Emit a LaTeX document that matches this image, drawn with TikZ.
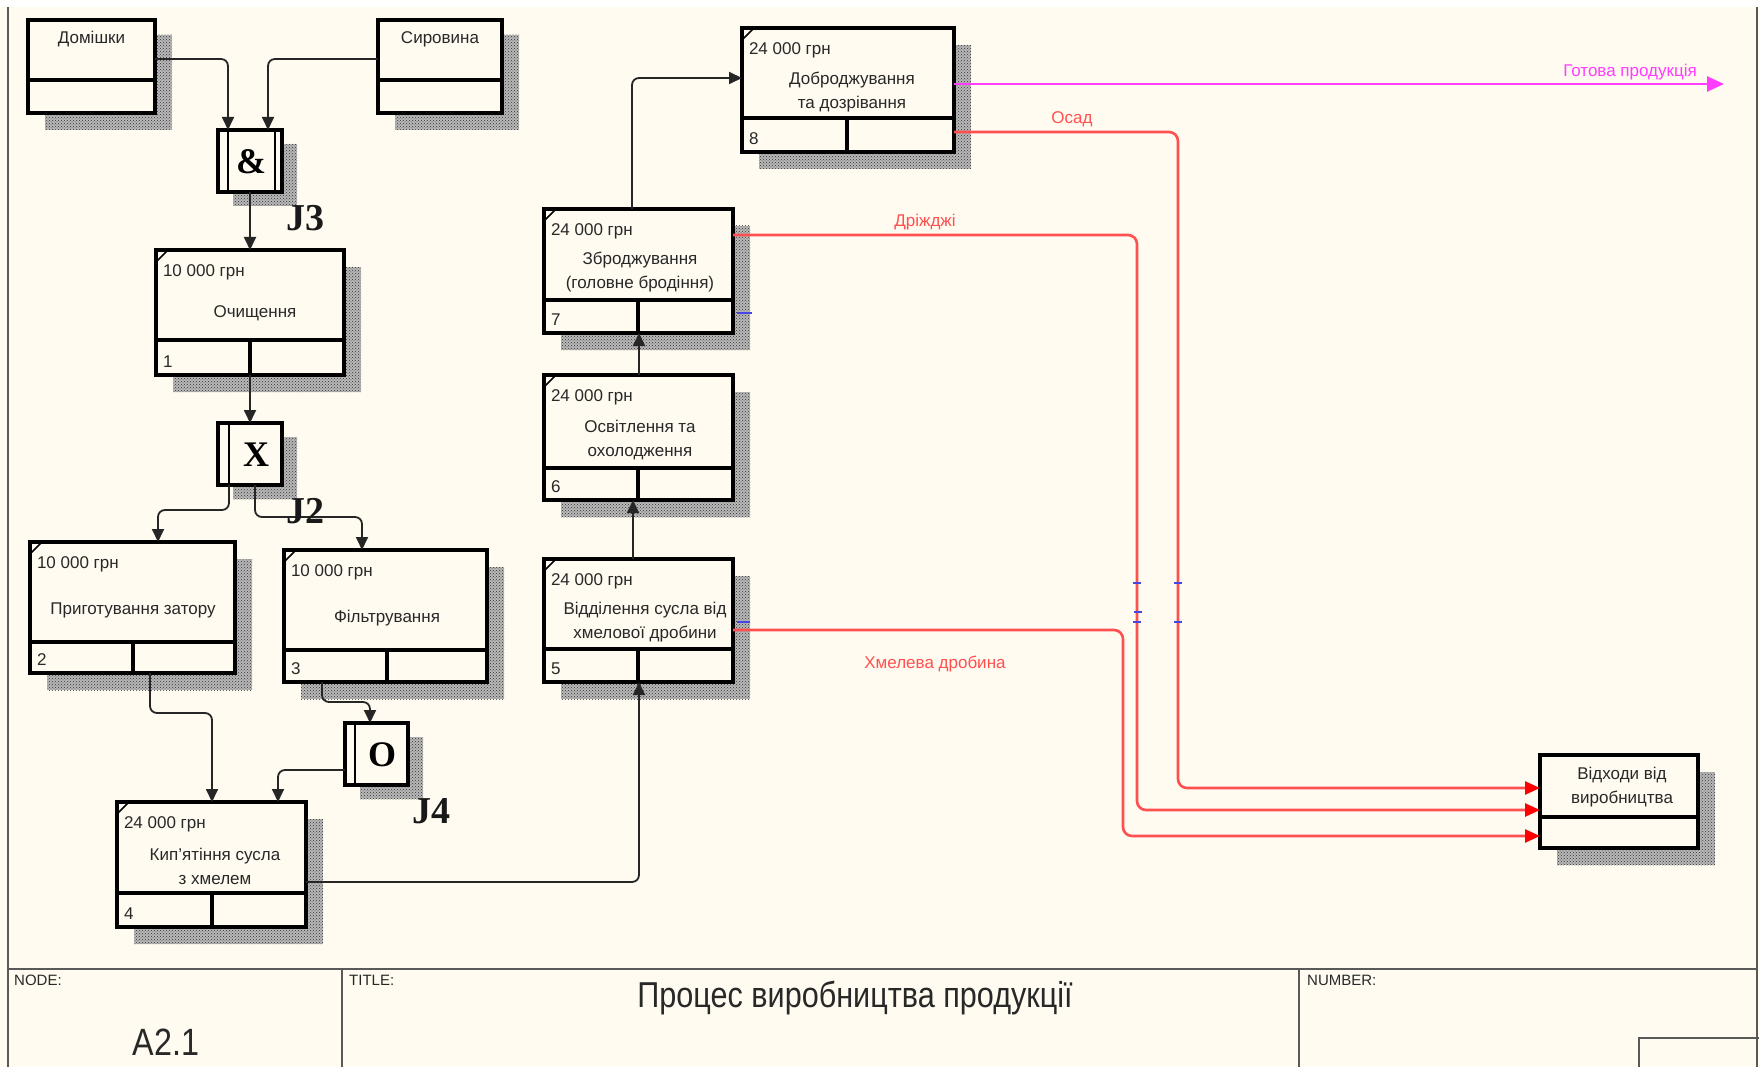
\documentclass[tikz,border=0pt]{standalone}
\usepackage{fontspec}
\setmainfont{Liberation Sans}
\newfontfamily\jfont{Liberation Serif}
\newfontfamily\titlefont[FakeStretch=0.85]{Liberation Sans}
\usetikzlibrary{arrows.meta,patterns}

\definecolor{cream}{RGB}{255,251,240}
\definecolor{idefred}{RGB}{255,80,80}
\definecolor{idefmag}{RGB}{255,60,255}
\definecolor{tickblue}{RGB}{70,70,230}
\definecolor{txtgray}{RGB}{40,40,40}

\tikzset{
  boxst/.style={draw=black, line width=3.2pt, fill=cream, inner sep=0pt, outer sep=0pt},
  divline/.style={black, line width=3.2pt},
  shadowst/.style={preaction={fill=black!28}, pattern=crosshatch dots, pattern color=black!80},
  txt/.style={font=\fontsize{17}{24}\selectfont, text=txtgray, inner sep=0pt, outer sep=0pt},
  ttl/.style={txt, align=center},
  flow/.style={draw=black!85, line width=1.8pt, rounded corners=7pt, -{Triangle[length=13pt,width=12pt]}},
  redflow/.style={draw=idefred, line width=2.6pt, rounded corners=9pt, -{Triangle[length=15pt,width=13pt,color=red]}},
  magflow/.style={draw=idefmag, line width=2.6pt, -{Triangle[length=17pt,width=15pt]}},
  jsym/.style={font=\jfont\bfseries\fontsize{36}{36}\selectfont, inner sep=0pt, text=black},
  jlbl/.style={font=\jfont\bfseries\fontsize{38}{38}\selectfont, inner sep=0pt, text=black!90},
  frameline/.style={draw=black!65, line width=2.8pt},
  tickst/.style={draw=tickblue, line width=1.6pt},
  smalltxt/.style={font=\fontsize{15}{15}\selectfont, text=txtgray, inner sep=0pt, anchor=west}
}

% activity box: name x1 y1 x2 y2 divy vx cost number
\newcommand\actbox[9]{%
  \fill[shadowst] ({#2+17},{#3+17}) rectangle ({#4+17},{#5+17});
  \node[boxst, anchor=north west, minimum width={(#4-#2)*1pt}, minimum height={(#5-#3)*1pt}] (#1) at (#2,#3) {};
  \draw[divline] (#2,#6) -- (#4,#6) (#7,#6) -- (#7,#5);
  \draw[black, line width=1.6pt] (#2,{#3+12}) -- ({#2+12},#3);
  \node[txt, anchor=west] (#1c) at ({#2+7},{#3+22}) {#8};
  \node[txt, anchor=west] (#1n) at ({#2+7},{#5-13}) {#9};
}
% source box: name x1 y1 x2 y2 divy text
\newcommand\srcbox[7]{%
  \fill[shadowst] ({#2+17},{#3+15}) rectangle ({#4+17},{#5+17});
  \node[boxst, anchor=north west, minimum width={(#4-#2)*1pt}, minimum height={(#5-#3)*1pt}] (#1) at (#2,#3) {};
  \draw[divline] (#2,#6) -- (#4,#6);
  \node[txt] (#1t) at ({(#2+#4)/2},{#3+19}) {#7};
}
% junction: name x1 y1 x2 y2 symbol symx bars
\newcommand\jbox[8]{%
  \fill[shadowst] ({#2+15},{#3+14}) rectangle ({#4+15},{#5+14});
  \node[boxst, anchor=north west, minimum width={(#4-#2)*1pt}, minimum height={(#5-#3)*1pt}] (#1) at (#2,#3) {};
  \foreach \bx in {#8} {\draw[black, line width=2.4pt] (\bx,#3) -- (\bx,#5);}
  \node[jsym] (#1s) at (#7,{(#3+#5)/2+1}) {#6};
}

\begin{document}
\begin{tikzpicture}[x=1pt,y=-1pt]
\useasboundingbox (0,0) rectangle (1759,1067);
\fill[white] (0,0) rectangle (1759,1067);
\fill[cream] (0,7) rectangle (1759,1067);

% frame and title block
\draw[frameline] (8,7) -- (8,1067);
\draw[frameline] (1757,7) -- (1757,1067);
\draw[frameline] (8,969) -- (1757,969);
\draw[frameline] (342,969) -- (342,1067);
\draw[frameline] (1299,969) -- (1299,1067);
\draw[frameline] (1639,1067) |- (1759,1038);
\node[smalltxt] (tnode) at (14,980) {NODE:};
\node[smalltxt] (ttitle) at (349,980) {TITLE:};
\node[smalltxt] (tnum) at (1307,980) {NUMBER:};
\node[font=\titlefont\fontsize{38}{38}\selectfont, anchor=base, inner sep=0pt, text=txtgray] (tA) at (166,1055) {A2.1};
\node[font=\titlefont\fontsize{36}{36}\selectfont, anchor=base, inner sep=0pt, text=txtgray] (tT) at (855,1007) {Процес виробництва продукції};

% boxes
\srcbox{dom}{28}{20}{155}{113}{80}{Домішки}
\srcbox{syr}{378}{20}{502}{113}{80}{Сировина}
\jbox{j3}{218}{130}{282}{192}{\&}{251}{228,275}
\jbox{j2}{218}{423}{282}{485}{X}{256}{229}
\jbox{j4}{345}{723}{408}{785}{O}{382}{355}

\actbox{b1}{156}{250}{344}{375}{340}{250}{10 000 грн}{1}
\node[ttl] (b1t) at (255,313) {Очищення};
\actbox{b2}{30}{542}{235}{673}{642}{133}{10 000 грн}{2}
\node[ttl] (b2t) at (133,610) {Приготування затору};
\actbox{b3}{284}{550}{487}{682}{650}{387}{10 000 грн}{3}
\node[ttl] (b3t) at (387,618) {Фільтрування};
\actbox{b4}{117}{802}{306}{927}{893}{212}{24 000 грн}{4}
\node[ttl] (b4t) at (215,866) {Кип'ятіння сусла\\з хмелем};
\actbox{b5}{544}{559}{733}{682}{649}{638}{24 000 грн}{5}
\node[ttl] (b5t) at (645,622) {Відділення сусла від\\хмелової дробини};
\actbox{b6}{544}{375}{733}{500}{468}{638}{24 000 грн}{6}
\node[ttl] (b6t) at (640,440) {Освітлення та\\охолодження};
\actbox{b7}{544}{209}{733}{333}{300}{638}{24 000 грн}{7}
\node[ttl] (b7t) at (640,272) {Зброджування\\(головне бродіння)};
\actbox{b8}{742}{28}{954}{152}{118}{847}{24 000 грн}{8}
\node[ttl] (b8t) at (852,92) {Доброджування\\та дозрівання};

\fill[shadowst] (1557,772) rectangle (1715,865);
\node[boxst, anchor=north west, minimum width=158pt, minimum height=93pt] (b9) at (1540,755) {};
\draw[divline] (1540,817) -- (1698,817);
\node[ttl] (b9t) at (1622,787) {Відходи від\\виробництва};

% black connectors
\draw[flow] (dom.east |- 0,59) -| (j3.north -| 228,0);
\draw[flow] (syr.west |- 0,59) -| (j3.north -| 268,0);
\draw[flow] (j3.south) -- (b1.north);
\draw[flow] (b1.south) -- (j2.north);
\draw[flow] (j2.south -| 229,0) -- (229,510) -| (b2.north -| 158,0);
\draw[flow] (j2.south -| 255,0) -- (255,517) -| (b3.north -| 362,0);
\draw[flow] (b2.south -| 150,0) -- (150,713) -| (b4.north -| 212,0);
\draw[flow] (b3.south -| 322,0) -- (322,702) -| (j4.north -| 370,0);
\draw[flow] (j4.west |- 0,770) -| (b4.north -| 278,0);
\draw[flow] (b4.east |- 0,882) -| (b5.south -| 639,0);
\draw[flow] (b5.north -| 633,0) -- (b6.south -| 633,0);
\draw[flow] (b6.north -| 639,0) -- (b7.south -| 639,0);
\draw[flow] (b7.north -| 632,0) |- (b8.west |- 0,78);

% outputs
\coordinate (gp) at (1724,84);
\draw[magflow] (b8.east |- gp) -- (gp);
\draw[redflow] (b8.east |- 0,132) -| (1178,788) -- (b9.west |- 0,788);
\draw[redflow] (b7.east |- 0,235) -| (1137,810) -- (b9.west |- 0,810);
\draw[redflow] (b5.east |- 0,630) -| (1123,836) -- (b9.west |- 0,836);

% small tunnel ticks
\draw[tickst] (1133,583) -- (1141,583) (1134,612) -- (1142,612) (1133,622) -- (1141,622)
  (1174,583) -- (1182,583) (1174,622) -- (1182,622)
  (737,313) -- (752,313) (737,622) -- (750,622);

% labels
\node[txt, text=idefmag] (lgp) at (1630,72) {Готова продукція};
\node[txt, text=idefred] (los) at (1072,119) {Осад};
\node[txt, text=idefred] (ldr) at (925,222) {Дріжджі};
\node[txt, text=idefred] (lhm) at (935,664) {Хмелева дробина};
\node[jlbl] (j3l) at (305,218) {J3};
\node[jlbl] (j2l) at (305,511) {J2};
\node[jlbl] (j4l) at (431,811) {J4};
\end{tikzpicture}
\end{document}
